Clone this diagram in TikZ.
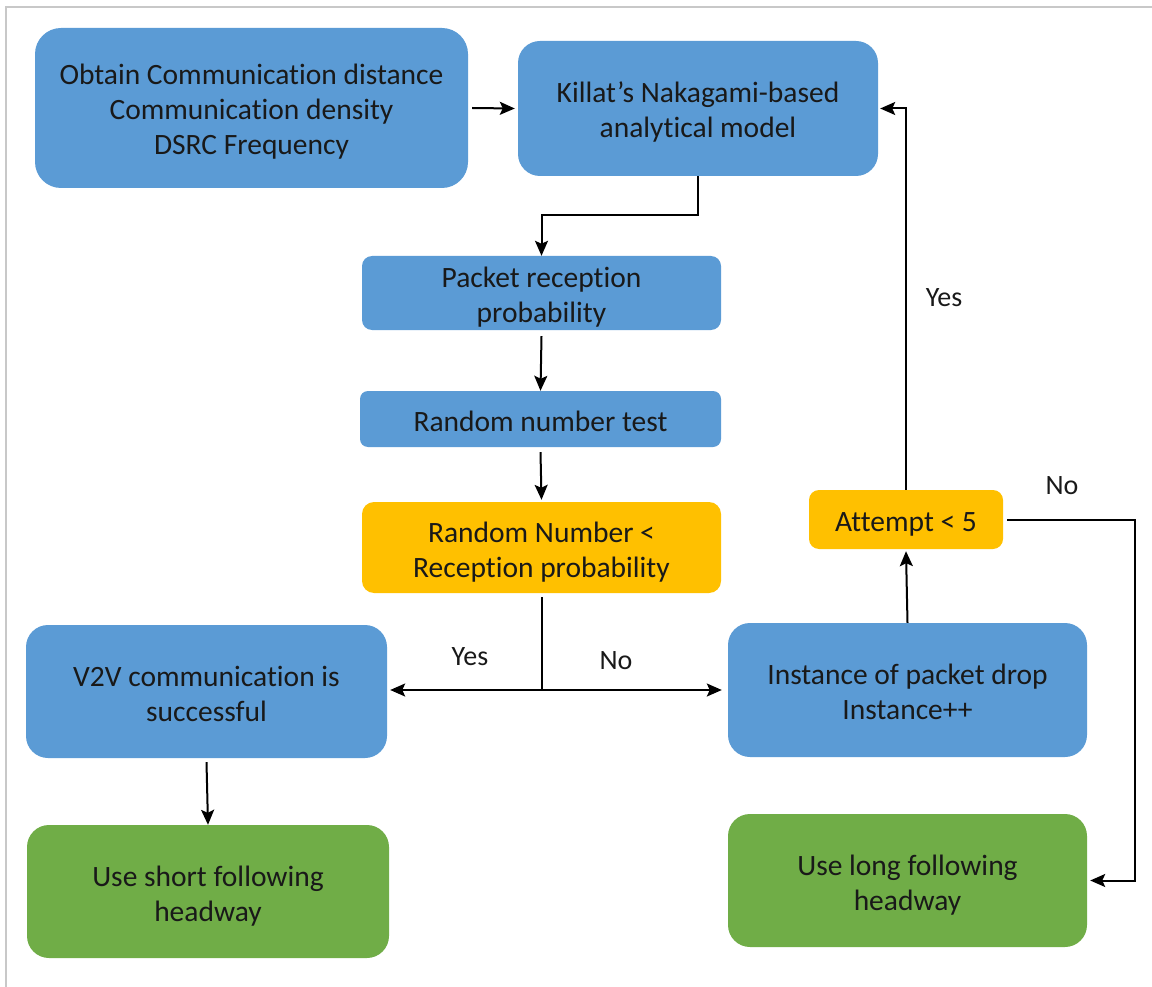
\documentclass[tikz,border=0pt]{standalone}
\usepackage{fontspec}
\setmainfont{Carlito}[RawFeature=-liga]
\usetikzlibrary{arrows.meta,calc}
\definecolor{boxblue}{HTML}{5B9BD5}
\definecolor{boxgold}{HTML}{FFC000}
\definecolor{boxgreen}{HTML}{70AD47}
\definecolor{framegray}{HTML}{C8C8C8}
% centred lines of box text, set a little below the box centre
\newcommand\boxlines[1]{\raisebox{-5pt}[\height][\depth]{\begin{tabular}{@{}c@{}}#1\end{tabular}}}
\tikzset{
  flowbox/.style={draw=none, rounded corners=#1, inner sep=0pt,
    font=\fontsize{29.5}{35}\selectfont, text=black!90},
  bluebox/.style={flowbox=#1, fill=boxblue},
  goldbox/.style={flowbox=#1, fill=boxgold},
  greenbox/.style={flowbox=#1, fill=boxgreen},
  arr/.style={line width=2pt, -{Stealth[length=15pt,width=13pt,inset=3pt]}},
  wire/.style={line width=2pt},
  lbl/.style={font=\fontsize{28}{32}\selectfont, text=black!90}
}
\begin{document}
\begin{tikzpicture}[x=1pt,y=-1pt]
\useasboundingbox (0,0) rectangle (1152,987);
% outer frame (only top and left edges fall inside the page)
\draw[framegray, line width=1.5pt] (6,1000) -- (6,7) -- (1160,7);

% process boxes
\node[bluebox=26pt, minimum width=433pt, minimum height=160pt] (obtain) at (251.5,108)
  {\boxlines{Obtain Communication distance\\Communication density\\DSRC Frequency}};
\node[bluebox=22pt, minimum width=360pt, minimum height=135pt] (killat) at (698,108.5)
  {\boxlines{Killat’s Nakagami-based\\analytical model}};
\node[bluebox=10pt, minimum width=359pt, minimum height=74pt] (packet) at (541.5,293)
  {\boxlines{Packet reception\\probability}};
\node[bluebox=8pt, minimum width=361pt, minimum height=56pt] (test) at (540.5,419)
  {\boxlines{Random number test}};
\node[goldbox=12pt, minimum width=359pt, minimum height=91pt] (rnd) at (541.5,547.5)
  {\boxlines{Random Number <\\Reception probability}};
\node[goldbox=10pt, minimum width=194pt, minimum height=59pt] (attempt) at (906,519.5)
  {\boxlines{Attempt < 5}};
\node[bluebox=22pt, minimum width=361pt, minimum height=133pt] (v2v) at (206.5,691.5)
  {\boxlines{V2V communication is\\successful}};
\node[bluebox=22pt, minimum width=359pt, minimum height=134pt] (drop) at (907.5,690)
  {\boxlines{Instance of packet drop\\Instance++}};
\node[greenbox=22pt, minimum width=362pt, minimum height=133pt] (short) at (208,891.5)
  {\boxlines{Use short following\\headway}};
\node[greenbox=22pt, minimum width=359pt, minimum height=133pt] (long) at (907.5,880.5)
  {\boxlines{Use long following\\headway}};

% connectors
\draw[arr] ([xshift=4pt]obtain.east) -- ([xshift=-3pt]killat.west);
\draw[arr] (killat.south) -- ++(0,39) -| (packet.north);
\draw[arr] ([yshift=-6pt]packet.south) -- (test.north);
\draw[arr] ([yshift=-5pt]test.south) -- ([yshift=2pt]rnd.north);
\coordinate (split) at (541.5,690);
\draw[wire] ([yshift=-4pt]rnd.south) -- (split);
\draw[arr] (split) -- ([xshift=3pt]v2v.east |- split);
\draw[arr] (split) -- ([xshift=-6pt]drop.west);
\draw[arr] (drop.north) -- ([yshift=-2pt]attempt.south);
\draw[arr] (attempt.north) |- ([xshift=2pt]killat.east);
\draw[arr] ([xshift=4pt]attempt.east) -- ++(128,0) |- ([xshift=3pt]long.east);
\draw[arr] ([yshift=-4pt]v2v.south) -- (short.north);

% branch labels
\node[lbl] (yes1) at (470,657) {Yes};
\node[lbl] (no1) at (616,661) {No};
\node[lbl] (yes2) at (944,298) {Yes};
\node[lbl] (no2) at (1062,486) {No};
\end{tikzpicture}
\end{document}
